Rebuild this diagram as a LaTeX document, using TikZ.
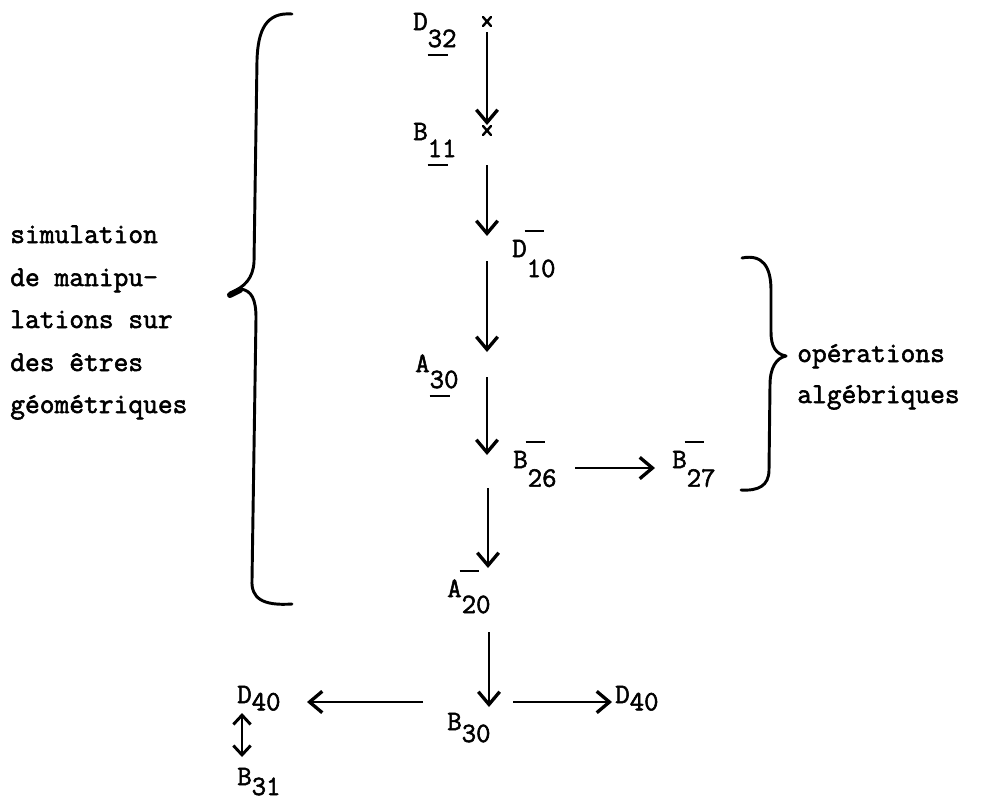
\documentclass[tikz,border=0pt]{standalone}
\usepackage{fontspec}
\setmonofont{Latin Modern Mono}[FakeBold=2]
\usetikzlibrary{arrows.meta}
\newcommand\lab[3]{#1\raisebox{-#2}{#3}}
\newcommand\ulx[1]{\rlap{\rule[-7pt]{15pt}{1.4pt}}#1}
\newcommand\obx{\rlap{\kern-1.5pt\raisebox{18.5pt}{\rule{14.5pt}{1.4pt}}}}
\begin{document}
\begin{tikzpicture}[x=0.75pt,y=-0.75pt,
  lbl/.style={anchor=base west,inner sep=0pt,font=\ttfamily\fontsize{21}{25}\selectfont},
  txt/.style={anchor=base west,inner sep=0pt,font=\ttfamily\fontsize{21.5}{30}\selectfont},
  arr/.style={line width=1.6pt,-{Straight Barb[length=9.5pt,width=16pt,line width=2.5pt]}},
  darr/.style={line width=1.6pt,{Straight Barb[length=7pt,width=13pt,line width=2.2pt]}-{Straight Barb[length=7pt,width=13pt,line width=2.2pt]}},
  brace/.style={line width=2.2pt,line cap=round,line join=round},
  crs/.style={line width=1.8pt,line cap=round}]
\useasboundingbox (0,0) rectangle (998,808);

% labels
\node[lbl] (d32) at (413,30) {\lab{D}{12.75pt}{\ulx{32}}};
\node[lbl] (b11) at (413,140) {\lab{B}{12.75pt}{\ulx{11}}};
\node[lbl] (d10) at (512,257) {\lab{D\obx}{15pt}{10}};
\node[lbl] (a30) at (415,372) {\lab{A}{12pt}{\ulx{30}}};
\node[lbl] (b26) at (513,468) {\lab{B\obx}{14pt}{26}};
\node[lbl] (b27) at (672,468) {\lab{B\obx}{14pt}{27}};
\node[lbl] (a20) at (447,597) {\lab{A\obx}{12pt}{20}};
\node[lbl] (b30) at (447,730) {\lab{B}{9pt}{30}};
\node[lbl] (d40l) at (237,703) {\lab{D}{5.5pt}{40}};
\node[lbl] (d40r) at (615,703) {\lab{D}{5.5pt}{40}};
\node[lbl] (b31) at (237,785) {\lab{B}{7.5pt}{31}};

% left text
\node[txt] (s1) at (10,243) {simulation};
\node[txt] (s2) at (10,286) {de manipu-};
\node[txt] (s3) at (10,328) {lations sur};
\node[txt] (s4) at (10,371) {des êtres};
\node[txt] (s5) at (10,413) {géométriques};
% right text
\node[txt] (o1) at (797,362) {opérations};
\node[txt] (o2) at (797,403) {algébriques};

% crosses
\draw[crs] (483,17) -- (491,26) (483,26) -- (491,17);
\draw[crs] (483,126) -- (491,135) (483,135) -- (491,126);

% arrow end points
\coordinate (p1) at (487,32);   \coordinate (q1) at (487,125);
\coordinate (p2) at (487,165);  \coordinate (q2) at (487,236);
\coordinate (p3) at (487,261);  \coordinate (q3) at (487,352);
\coordinate (p4) at (487,377);  \coordinate (q4) at (487,455);
\coordinate (p5) at (575,468);  \coordinate (q5) at (655,468);
\coordinate (p6) at (488,488);  \coordinate (q6) at (488,568);
\coordinate (p7) at (489,632);  \coordinate (q7) at (489,707);
\coordinate (p8) at (423,702);  \coordinate (q8) at (307,702);
\coordinate (p9) at (513,702);  \coordinate (q9) at (612,702);
\coordinate (p10) at (242,713); \coordinate (q10) at (242,757);

\draw[arr] (p1) -- (q1);
\draw[arr] (p2) -- (q2);
\draw[arr] (p3) -- (q3);
\draw[arr] (p4) -- (q4);
\draw[arr] (p5) -- (q5);
\draw[arr] (p6) -- (q6);
\draw[arr] (p7) -- (q7);
\draw[arr] (p8) -- (q8);
\draw[arr] (p9) -- (q9);
\draw[darr] (p10) -- (q10);

% left brace
\draw[brace] (292,14) .. controls (266,12) and (258,30) .. (257,60) -- (254,262) .. controls (253,278) and (245,287) .. (230,293);
\draw[line width=4.5pt,line cap=round] (230,295) -- (240,290);
\draw[brace] (240,289) .. controls (252,290) and (256,300) .. (256,318) -- (252,580) .. controls (251,598) and (262,606) .. (292,604);

% right brace
\draw[brace] (742,258) .. controls (762,254) and (771,266) .. (771,290) -- (771,332) .. controls (771,347) and (776,354) .. (786,356);
\draw[brace] (786,356) .. controls (776,358) and (770,368) .. (770,385) -- (769,470) .. controls (769,486) and (758,491) .. (741,490);
\end{tikzpicture}
\end{document}
